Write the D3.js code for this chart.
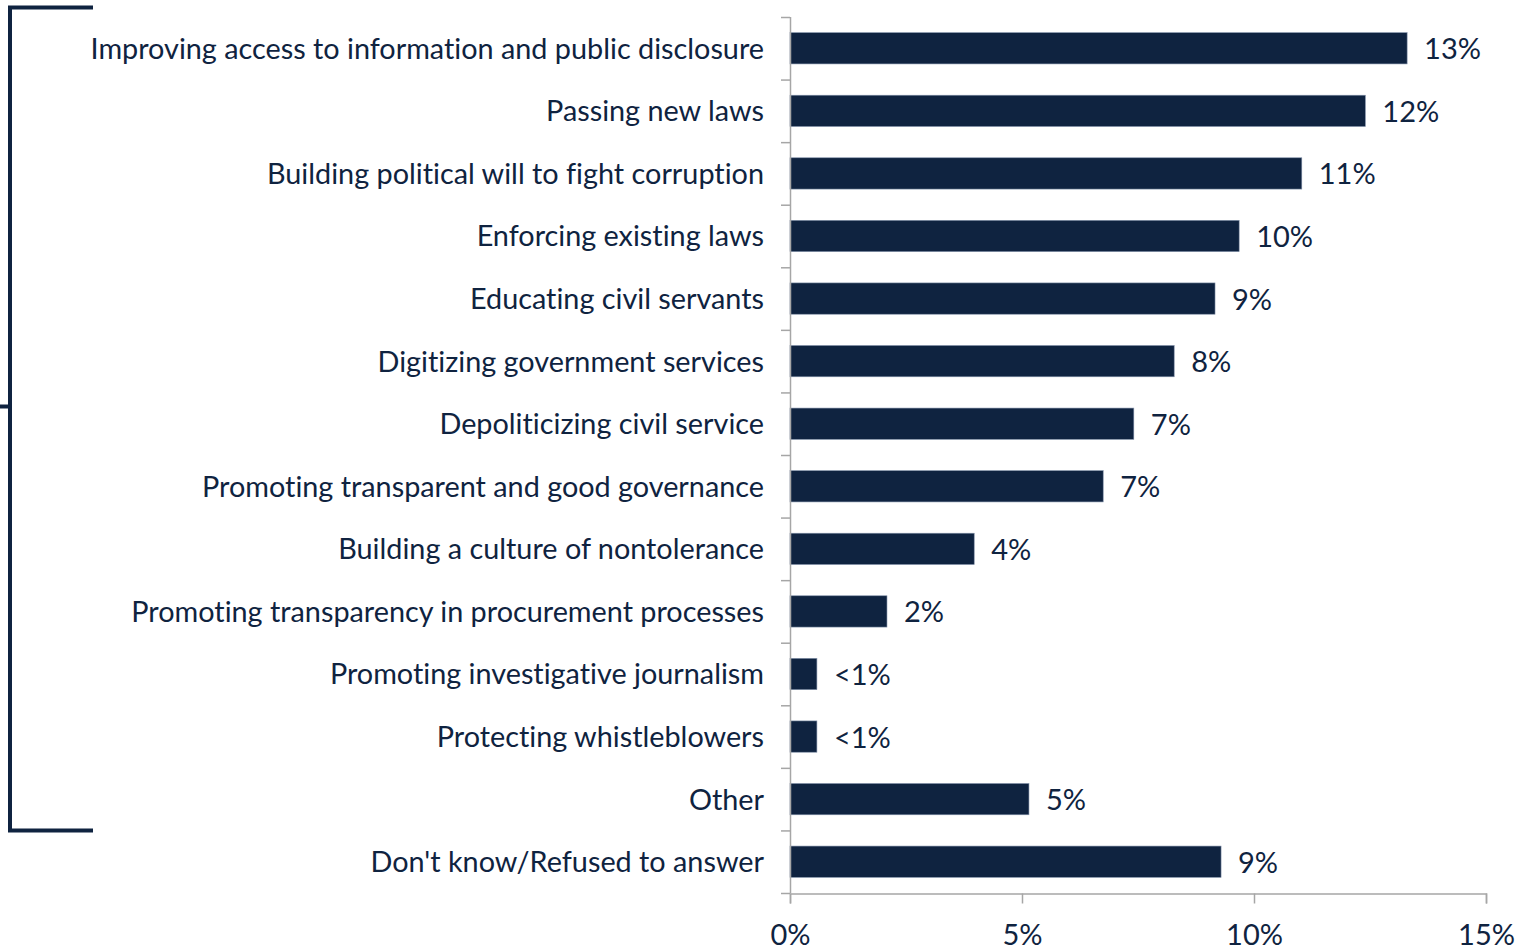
<!DOCTYPE html>
<html><head><meta charset="utf-8">
<script src="https://cdn.jsdelivr.net/npm/d3@7"></script>
<style>body{margin:0;background:#fff} text{font-variant-ligatures:none}</style>
</head><body>
<svg id="c" width="1530" height="950"></svg>
<script>
const categories = ["Improving access to information and public disclosure","Passing new laws","Building political will to fight corruption","Enforcing existing laws","Educating civil servants","Digitizing government services","Depoliticizing civil service","Promoting transparent and good governance","Building a culture of nontolerance","Promoting transparency in procurement processes","Promoting investigative journalism","Protecting whistleblowers","Other","Don't know/Refused to answer"];
const values = [13.3,12.4,11.03,9.68,9.16,8.28,7.41,6.75,3.97,2.09,0.58,0.58,5.15,9.29];
const valueLabels = ["13%","12%","11%","10%","9%","8%","7%","7%","4%","2%","<1%","<1%","5%","9%"];
const xTicks = [0,5,10,15];

const navy = "#0f2340", gray = "#a6a6a6";
const font = "Lato, sans-serif";
const svg = d3.select("#c");
const x = d3.scaleLinear().domain([0,15]).range([790,1486]);
const y = d3.scaleBand().domain(categories).range([17,893]).paddingInner(0.5).paddingOuter(0.25);

// bracket
svg.append("path").attr("d","M93,7.5 H10 V830.5 H93").attr("fill","none").attr("stroke",navy).attr("stroke-width",4);
svg.append("line").attr("x1",0).attr("x2",10).attr("y1",406.5).attr("y2",406.5).attr("stroke",navy).attr("stroke-width",4);

// bars
svg.selectAll("rect.bar").data(categories).join("rect").attr("class","bar")
  .attr("x",x(0)).attr("y",d=>y(d)).attr("height",y.bandwidth())
  .attr("width",(d,i)=>x(values[i])-x(0)).attr("fill",navy).attr("stroke","#8090a8").attr("stroke-width",0.6);

// value labels
svg.selectAll("text.val").data(categories).join("text").attr("class","val")
  .attr("x",(d,i)=>x(values[i])+17).attr("y",d=>y(d)+y.bandwidth()/2).attr("dy","0.38em")
  .attr("font-family",font).attr("font-size",29).attr("fill",navy).text((d,i)=>valueLabels[i]);

// y axis
const step = y.step();
const ya = svg.append("g");
ya.append("line").attr("x1",790.5).attr("x2",790.5).attr("y1",17).attr("y2",893).attr("stroke",gray).attr("stroke-width",1.5);
ya.selectAll("line.t").data(d3.range(categories.length+1)).join("line").attr("class","t")
  .attr("x1",781).attr("x2",790).attr("y1",i=>17+i*step+0.5).attr("y2",i=>17+i*step+0.5).attr("stroke",gray).attr("stroke-width",1.5);
ya.selectAll("text").data(categories).join("text")
  .attr("x",764).attr("y",d=>y(d)+y.bandwidth()/2).attr("dy","0.36em").attr("text-anchor","end")
  .attr("font-family",font).attr("font-size",28.8).attr("fill",navy).text(d=>d);

// x axis
const xa = svg.append("g").attr("transform","translate(0,893.5)")
  .call(d3.axisBottom(x).tickValues(xTicks).tickFormat(d=>d+"%").tickSize(10));
xa.select(".domain").attr("stroke",gray).attr("stroke-width",1.5);
xa.selectAll(".tick line").attr("stroke",gray).attr("stroke-width",1.5);
xa.selectAll(".tick text").attr("font-family",font).attr("font-size",29).attr("fill",navy)
  .attr("y",51).attr("dy",null);
</script>
</body></html>
